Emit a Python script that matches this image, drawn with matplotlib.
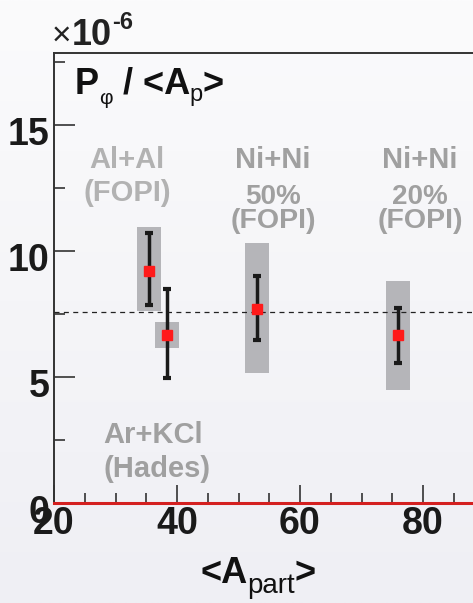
import numpy as np
import matplotlib
matplotlib.use("Agg")
import matplotlib.pyplot as plt
from matplotlib.colors import LinearSegmentedColormap
import matplotlib.transforms as mtransforms

plt.rcParams['font.family'] = ['Liberation Sans', 'DejaVu Sans']

# data
systems = ["Al+Al (FOPI)", "Ar+KCl (Hades)", "Ni+Ni 50% (FOPI)", "Ni+Ni 20% (FOPI)"]
a_part = [35.4, 38.4, 53.0, 76.0]
p_phi = [9.2, 6.65, 7.7, 6.65]
stat_lo = [7.85, 4.95, 6.45, 5.55]
stat_hi = [10.7, 8.5, 9.0, 7.75]
sys_lo = [7.62, 6.14, 5.15, 4.5]
sys_hi = [10.94, 7.17, 10.33, 8.82]
mean_level = 7.58
y_ticks = [0, 5, 10, 15]
x_ticks = [20, 40, 60, 80]

W, H = 473, 603
fig = plt.figure(figsize=(W/100, H/100), dpi=100)

# background gradient
bg = fig.add_axes([0, 0, 1, 1], zorder=-10)
grad = np.linspace(0, 1, 256).reshape(-1, 1)
cm = LinearSegmentedColormap.from_list("bg", ["#fbfbfc", "#efeff4"])
bg.imshow(grad, aspect='auto', cmap=cm, extent=[0, 1, 1, 0])
bg.axis('off')

ax = fig.add_axes([54/W, 1-503/H, 1-54/W, (503-53)/H])
ax.set_facecolor('none')
ax.set_xlim(20, 20 + (W-54)/6.15)
ax.set_ylim(0, (503-53)/25.2)

half_w = 1.95
for x, ylo, yhi in zip(a_part, sys_lo, sys_hi):
    ax.bar(x, yhi-ylo, bottom=ylo, width=2*half_w, color='#b5b5b9', zorder=2)

ax.axhline(mean_level, color='#222222', lw=0.9, ls=(0, (4, 3.5)), zorder=3)

yerr = [np.array(p_phi)-np.array(stat_lo), np.array(stat_hi)-np.array(p_phi)]
ax.errorbar(a_part, p_phi, yerr=yerr, fmt='none', ecolor='#1a1a1a', elinewidth=2.5,
            capsize=2.9, capthick=3.0, zorder=4)
ax.plot(a_part, p_phi, 's', color='#ff1a1a', ms=6.5, mec='#ff1a1a', zorder=5)

ax.axhline(0, color='#d42020', lw=2.2, zorder=6, clip_on=False)

for s in ['right']:
    ax.spines[s].set_visible(False)
for s in ['left', 'top', 'bottom']:
    ax.spines[s].set_color('#333333')
    ax.spines[s].set_linewidth(1.4)

ax.set_yticks(y_ticks)
ax.set_yticks([2.5, 7.5, 12.5, 17.5], minor=True)
ax.set_xticks(x_ticks)
ax.set_xticks(np.arange(25, 90, 5), minor=True)
ax.tick_params(which='both', direction='in', color='#333333', width=1.2)
ax.tick_params(which='major', labelsize=27)
ax.tick_params(axis='y', which='major', length=15, pad=3)
ax.tick_params(axis='y', which='minor', length=8)
ax.tick_params(axis='x', which='major', length=13, pad=2)
ax.tick_params(axis='x', which='minor', length=7)
for lab in ax.get_xticklabels() + ax.get_yticklabels():
    lab.set_fontweight('bold')
    lab.set_color('#1a1a1a')
shift_y = mtransforms.ScaledTranslation(0, -6/100, fig.dpi_scale_trans)
for lab in ax.get_yticklabels():
    lab.set_transform(lab.get_transform() + shift_y)

renderer = fig.canvas.get_renderer()

def rich(x_px, base_px, pieces):
    """pieces: (text, size, dy_px, weight, color)"""
    x = x_px
    for s, size, dy, weight, color in pieces:
        t = fig.text(x/W, 1-(base_px+dy)/H, s, fontsize=size, fontweight=weight,
                     color=color, ha='left', va='baseline')
        x += t.get_window_extent(renderer).width

def line(x_px, base_px, s, size, color, ha='center', weight='bold'):
    fig.text(x_px/W, 1-base_px/H, s, fontsize=size, fontweight=weight, color=color,
             ha=ha, va='baseline')

# category labels
g1 = '#b2b2b2'
g2 = '#a0a0a0'
line(127, 168, "Al+Al", 21, g1)
line(127, 201, "(FOPI)", 21, g1)
line(273, 168, "Ni+Ni", 21, g2)
line(273, 204, "50%", 20, g2)
line(273, 228, "(FOPI)", 20.5, g2)
line(420, 168, "Ni+Ni", 21, g2)
line(420, 204, "20%", 20, g2)
line(420, 228, "(FOPI)", 20.5, g2)
line(103, 443, "Ar+KCl", 21, g2, ha='left')
line(103, 477, "(Hades)", 21, g2, ha='left')

# y title inside
dark = '#111111'
rich(75, 94, [("P", 26, 0, 'bold', dark), ("\u03c6", 15, 10, 'normal', dark),
              (" / <A", 26, 0, 'bold', dark), ("p", 17, 7, 'normal', dark),
              (">", 26, 0, 'bold', dark)])

# x title
rich(200, 583, [("<A", 26, 0, 'bold', dark), ("part", 20, 10, 'normal', dark),
                (">", 26, 0, 'bold', dark)])

# exponent
rich(52, 45, [("\u00d7", 24, 0, 'normal', '#222222'), ("10", 26, 0, 'bold', '#222222'),
              ("-6", 17, -16, 'bold', '#222222')])

fig.savefig('out.png', dpi=100)
